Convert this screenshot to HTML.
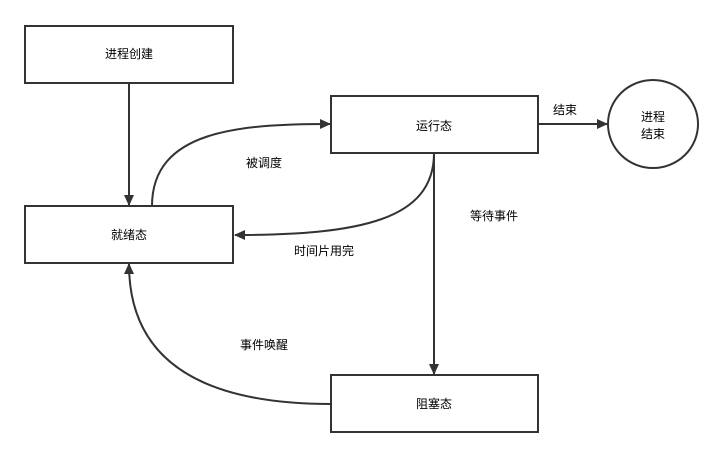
<!DOCTYPE html>
<html><head><meta charset="utf-8"><style>
html,body{margin:0;padding:0;background:#fff;width:718px;height:458px;overflow:hidden}
svg text{font-family:"Liberation Sans","Noto Sans CJK SC",sans-serif;font-size:12px;fill:#000}
</style></head><body>
<svg width="718" height="458" viewBox="0 0 718 458" xmlns="http://www.w3.org/2000/svg">
<defs><marker id="a" markerWidth="12" markerHeight="12" refX="10" refY="5.5" orient="auto" markerUnits="userSpaceOnUse"><path d="M0,0.5 L11,5.5 L0,10.5 Z" fill="#333"/></marker></defs>
<g fill="#fff" stroke="#333" stroke-width="2">
<rect x="25" y="26" width="208" height="57"/>
<rect x="25" y="206" width="208" height="57"/>
<rect x="331" y="96" width="207" height="57"/>
<rect x="331" y="375" width="207" height="57"/>
<ellipse cx="653" cy="124" rx="45" ry="44"/>
</g>
<g fill="none" stroke="#333" stroke-width="2" marker-end="url(#a)">
<line x1="129" y1="83" x2="129" y2="205"/>
<path d="M152,206 C152,130 240,124 330,124"/>
<path d="M434,153 C434,220 360,235 235,235"/>
<line x1="434" y1="153" x2="434" y2="374"/>
<path d="M331,404 C200,404 129,360 129,264"/>
<line x1="538" y1="124" x2="607" y2="124"/>
</g>
<g text-anchor="middle">
<text x="129" y="58">进程创建</text>
<text x="129" y="239">就绪态</text>
<text x="434" y="130">运行态</text>
<text x="434" y="408">阻塞态</text>
<text x="653" y="121">进程</text>
<text x="653" y="138">结束</text>
<text x="264" y="167">被调度</text>
<text x="324" y="255">时间片用完</text>
<text x="494" y="220">等待事件</text>
<text x="264" y="349">事件唤醒</text>
<text x="565" y="114">结束</text>
</g>
</svg>
</body></html>
